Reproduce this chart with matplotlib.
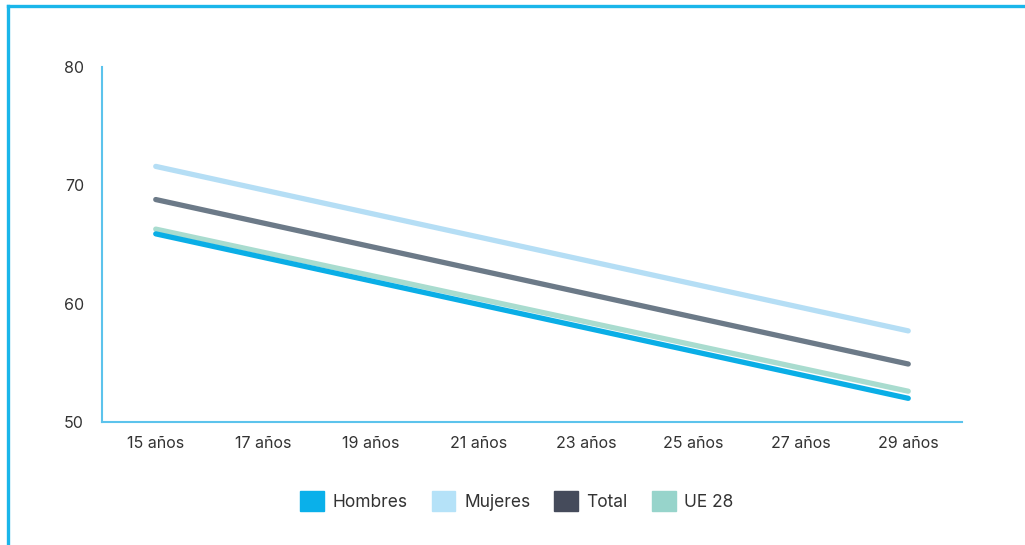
import matplotlib
matplotlib.use("Agg")
import matplotlib.pyplot as plt
from matplotlib.patches import Patch
from matplotlib.lines import Line2D

edades = [15, 29]
tick_vals = [15, 17, 19, 21, 23, 25, 27, 29]
tick_labels = ["15 años", "17 años", "19 años", "21 años", "23 años", "25 años", "27 años", "29 años"]
hombres = [65.9, 52.0]
mujeres = [71.6, 57.7]
total = [68.8, 54.9]
ue28 = [66.3, 52.6]

plt.rcParams['font.family'] = ['Inter', 'DejaVu Sans']

fig = plt.figure(figsize=(10.25, 5.45), dpi=100)
ax = fig.add_axes([102/1025, 1-422/545, (962-102)/1025, (422-67)/545])

lw = 3.8
ax.plot(edades, mujeres, color="#b5def5", lw=lw, solid_capstyle="round", zorder=3)
ax.plot(edades, total, color="#6c7a88", lw=lw, solid_capstyle="round", zorder=3)
ax.plot(edades, ue28, color="#a9dccf", lw=lw, solid_capstyle="round", zorder=3)
ax.plot(edades, hombres, color="#0aaee6", lw=lw, solid_capstyle="round", zorder=4)

ax.set_xlim(14, 30)
ax.set_ylim(50, 80)
ax.set_yticks([50, 60, 70, 80])
ax.set_xticks(tick_vals)
ax.set_xticklabels(tick_labels)
for s in ["top", "right"]:
    ax.spines[s].set_visible(False)
for s in ["left", "bottom"]:
    ax.spines[s].set_color("#5cc3ec")
    ax.spines[s].set_linewidth(1.5)
ax.tick_params(length=0, labelsize=11.5, colors="#333333")
ax.tick_params(axis="y", pad=13)
ax.tick_params(axis="x", pad=10)

handles = [Patch(color="#0ab0ea", label="Hombres"),
           Patch(color="#b5e2f8", label="Mujeres"),
           Patch(color="#454b5b", label="Total"),
           Patch(color="#97d4cb", label="UE 28")]
fig.legend(handles=handles, loc="center", bbox_to_anchor=(517/1025, 1-501/545), ncol=4,
           frameon=False, fontsize=12.5, handlelength=1.35, handleheight=1.35,
           handletextpad=0.5, columnspacing=1.4, labelcolor="#333333")

fig.add_artist(Line2D([8/1025, 1], [1-6/545, 1-6/545], color="#1ab6ea", lw=2.4, transform=fig.transFigure))
fig.add_artist(Line2D([8/1025, 8/1025], [0, 1-6/545], color="#1ab6ea", lw=2.4, transform=fig.transFigure))

fig.savefig("out.png", dpi=100)
